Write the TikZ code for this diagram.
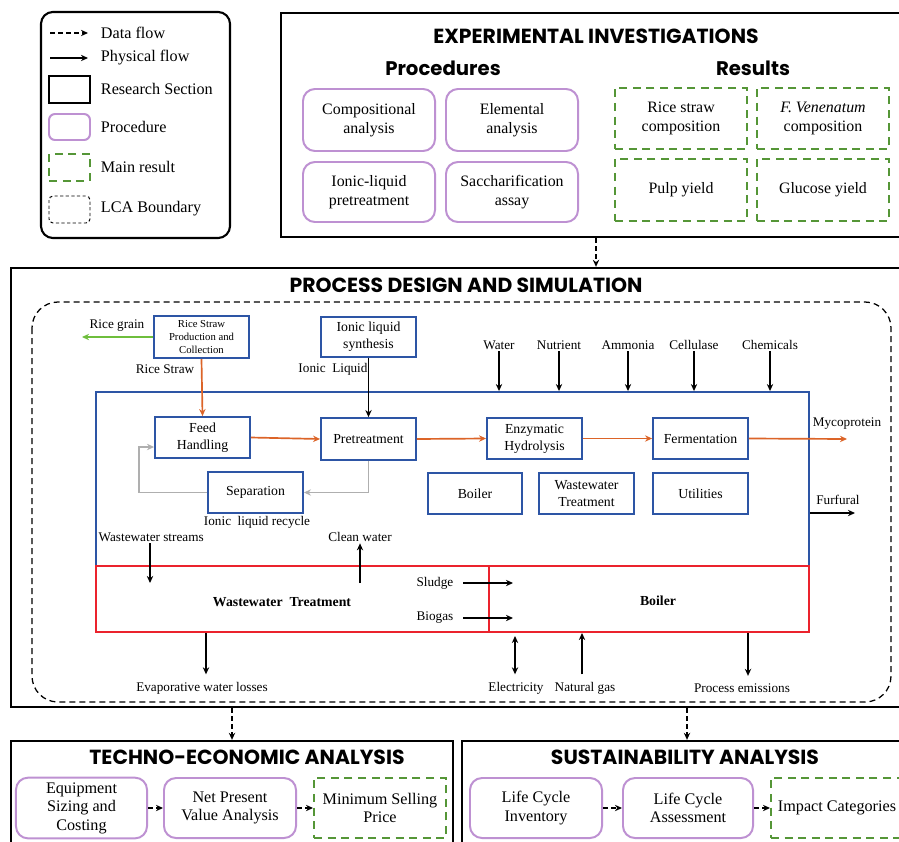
\documentclass[tikz,border=0pt]{standalone}
\usepackage{fontspec}
\setmainfont{Liberation Serif}
\newfontfamily\titlefont{Poppins}
\usetikzlibrary{positioning, calc, arrows.meta}

\definecolor{procpurple}{RGB}{190,145,210}
\definecolor{resgreen}{RGB}{85,150,55}
\definecolor{unitblue}{RGB}{45,85,165}
\definecolor{wwtred}{RGB}{235,35,45}
\definecolor{strawor}{RGB}{220,100,40}
\definecolor{graingreen}{RGB}{110,190,60}
\definecolor{recgray}{RGB}{175,175,175}

\tikzset{
  section/.style={draw, line width=1.6pt},
  ttl/.style={font=\titlefont\bfseries\fontsize{14.5}{16}\selectfont},
  subttl/.style={font=\titlefont\bfseries\fontsize{14}{16}\selectfont},
  proc/.style={draw=procpurple, line width=1.4pt, rounded corners=0.3cm, align=center},
  result/.style={draw=resgreen, line width=1.4pt, dash pattern=on 0.2cm off 0.14cm, align=center},
  unit/.style={draw=unitblue, line width=1.3pt, align=center, font=\rmfamily\fontsize{9.8}{12}\selectfont},
  redbox/.style={draw=wwtred, line width=1.3pt},
  lbl/.style={font=\rmfamily\fontsize{9.4}{11}\selectfont, inner sep=1pt},
  boldlbl/.style={font=\rmfamily\bfseries\fontsize{9.8}{11}\selectfont, inner sep=1pt},
  legtext/.style={font=\rmfamily\fontsize{11.5}{14}\selectfont, anchor=west},
  flow/.style={-{Stealth[length=5pt,width=4.5pt]}, line width=1.2pt},
  orflow/.style={flow, strawor},
  dataflow/.style={-{Stealth[length=5pt,width=4.5pt]}, line width=1.3pt, dash pattern=on 0.12cm off 0.08cm},
  lcaline/.style={draw, line width=0.9pt, dash pattern=on 0.15cm off 0.1cm},
  bigtext/.style={font=\rmfamily\fontsize{11.3}{13.3}\selectfont},
  bottext/.style={font=\rmfamily\fontsize{11.5}{13.2}\selectfont},
}

\begin{document}
\begin{tikzpicture}[x=0.025cm, y=-0.025cm]
    \clip (0,0) rectangle (899,841);
    \fill[white] (0,0) rectangle (899,841);

    % legend
    \node[draw, line width=1.5pt, rounded corners=0.3cm, minimum width=4.725cm, minimum height=5.65cm] (legend) at (135.5,125) {};
    \draw[dataflow] (50,33) -- (88,33);
    \node[legtext] at (96,33) {Data flow};
    \draw[flow] (50,58) -- (88,58);
    \node[legtext] at (96,58) {Physical flow};
    \draw[section, line width=2pt] (49,76) rectangle (90,103);
    \node[legtext] at (96,89) {Research Section};
    \draw[procpurple, line width=1.4pt, rounded corners=0.15cm] (49,114) rectangle (90,140);
    \node[legtext] at (96,127) {Procedure};
    \draw[resgreen, line width=1.4pt, dash pattern=on 0.2cm off 0.14cm] (49,154) rectangle (90,181);
    \node[legtext] at (96,167) {Main result};
    \draw[lcaline, line width=0.7pt, dash pattern=on 0.08cm off 0.06cm, rounded corners=0.1cm] (49,196) rectangle (90,223);
    \node[legtext] at (96,209) {LCA Boundary};

    % experimental investigations
    \node[section, minimum width=15.75cm, minimum height=5.6cm] (exp) at (596,125) {};
    \node[ttl] (expT) at (596,36) {EXPERIMENTAL INVESTIGATIONS};
    \node[subttl] (procT) at (443,68) {Procedures};
    \node[subttl] (resT) at (753,68) {Results};

    \node[proc, bigtext, minimum width=3.3cm, minimum height=1.55cm] (comp) at (369,120) {Compositional\\analysis};
    \node[proc, bigtext, minimum width=3.3cm, minimum height=1.55cm] (elem) at (512,120) {Elemental\\analysis};
    \node[proc, bigtext, minimum width=3.3cm, minimum height=1.5cm] (ilpre) at (369,192) {Ionic-liquid\\pretreatment};
    \node[proc, bigtext, minimum width=3.3cm, minimum height=1.5cm] (sacc) at (512,192) {Saccharification\\assay};

    \node[result, bigtext, minimum width=3.3cm, minimum height=1.525cm] (rscomp) at (681,118.5) {Rice straw\\composition};
    \node[result, bigtext, minimum width=3.3cm, minimum height=1.525cm] (fvcomp) at (823,118.5) {\textit{F. Venenatum}\\composition};
    \node[result, bigtext, minimum width=3.3cm, minimum height=1.55cm] (pulp) at (681,190) {Pulp yield};
    \node[result, bigtext, minimum width=3.3cm, minimum height=1.55cm] (gluc) at (823,190) {Glucose yield};

    % process design and simulation
    \node[section, minimum width=22.75cm, minimum height=10.975cm] (pds) at (466,487.5) {};
    \node[ttl] (pdsT) at (466,285) {PROCESS DESIGN AND SIMULATION};
    \draw[dataflow] (exp.south) -- (exp.south |- pds.north);
    \draw[lcaline, rounded corners=0.65cm] (32,302) rectangle (891,702);

    \node[unit, minimum width=2.375cm, minimum height=1cm, font=\rmfamily\fontsize{7.6}{9.2}\selectfont] (rspc) at (201.5,337) {Rice Straw\\Production and\\Collection};
    \node[unit, minimum width=2.375cm, minimum height=1cm] (ils) at (368.5,337) {Ionic liquid\\synthesis};

    \node[draw=unitblue, line width=1.3pt, minimum width=17.825cm, minimum height=4.35cm] (plant) at (452.5,479) {};

    \node[unit, minimum width=2.375cm, minimum height=1.025cm] (feed) at (202.5,437.5) {Feed\\Handling};
    \node[unit, minimum width=2.375cm, minimum height=1.05cm] (pre) at (368.5,439) {Pretreatment};
    \node[unit, minimum width=2.375cm, minimum height=1.025cm] (enz) at (534.5,438.5) {Enzymatic\\Hydrolysis};
    \node[unit, minimum width=2.375cm, minimum height=1.025cm] (fer) at (700.5,438.5) {Fermentation};
    \node[unit, minimum width=2.375cm, minimum height=1.025cm] (sep) at (255.5,492.5) {Separation};
    \node[unit, minimum width=2.35cm, minimum height=1.025cm] (boil) at (475,493.5) {Boiler};
    \node[unit, minimum width=2.375cm, minimum height=1.025cm] (wwt) at (586.5,493.5) {Wastewater\\Treatment};
    \node[unit, minimum width=2.375cm, minimum height=1.025cm] (util) at (700.5,493.5) {Utilities};

    \node[redbox, minimum width=9.825cm, minimum height=1.65cm] (wwtbox) at (292.5,599) {};
    \node[redbox, minimum width=8cm, minimum height=1.65cm] (boilbox) at (649,599) {};
    \node[boldlbl] (wwtL) at (282,602) {Wastewater\enspace Treatment};
    \node[boldlbl] (boilL) at (658,601) {Boiler};

    % flows around the plant
    \coordinate (grain) at (82,337);
    \draw[flow, graingreen] (rspc.west) -- (grain);
    \node[lbl] (grainL) at (117,326) {Rice grain};
    \draw[orflow] (rspc.south) -- (feed.north);
    \node[lbl] (strawL) at (165,369) {Rice Straw};
    \draw[flow] (ils.south) -- (pre.north);
    \node[lbl] (ilL) at (333,369) {Ionic\enspace Liquid};
    \draw[orflow] (feed.east) -- (pre.west);
    \draw[orflow] (pre.east) -- (enz.west);
    \draw[orflow] (enz.east) -- (fer.west);
    \coordinate (myco) at (847,439);
    \draw[orflow] (fer.east) -- (myco);
    \node[lbl] (mycoL) at (847,424) {Mycoprotein};

    \coordinate (loop) at (139,447);
    \draw[flow, recgray] (pre.south) |- (sep.east);
    \draw[flow, recgray] (sep.west) -| (loop) -- (loop -| feed.west);
    \node[lbl] (recL) at (257,522) {Ionic\enspace liquid recycle};

    \foreach \nm/\xx in {Water/499, Nutrient/559, Ammonia/628, Cellulase/694, Chemicals/770}{
      \node[lbl] (in\nm) at (\xx,345) {\nm};
      \draw[flow] (in\nm.south) -- (in\nm.south |- plant.north);
    }

    \coordinate (furf) at (855,513);
    \draw[flow] (furf -| plant.east) -- (furf);
    \node[lbl] (furfL) at (838,500) {Furfural};

    \node[lbl, anchor=west] (wws) at (97,537) {Wastewater streams};
    \coordinate (wwin) at (150,583);
    \draw[flow] (wwin |- wws.south) -- (wwin);
    \node[lbl] (cw) at (360,537) {Clean water};
    \coordinate (cwout) at (360,583);
    \draw[flow] (cwout) -- (cwout |- cw.south);

    \node[lbl, anchor=east] (sludge) at (455,583) {Sludge};
    \coordinate (sl) at (513,583);
    \draw[flow] ([xshift=0.2cm]sludge.east) -- (sl);
    \node[lbl, anchor=east] (biogas) at (455,618) {Biogas};
    \coordinate (bg) at (513,618);
    \draw[flow] ([xshift=0.2cm]biogas.east) -- (bg);

    \node[lbl] (evap) at (202,688) {Evaporative water losses};
    \coordinate (evx) at (206,633);
    \draw[flow] (evx) -- ([yshift=0.15cm]evx |- evap.north);
    \node[lbl] (elec) at (516,688) {Electricity};
    \coordinate (elx) at (515,636);
    \draw[flow, {Stealth[length=5pt,width=4.5pt]}-{Stealth[length=5pt,width=4.5pt]}] (elx) -- ([yshift=0.15cm]elx |- elec.north);
    \node[lbl] (ngas) at (585,688) {Natural gas};
    \coordinate (ngx) at (582,633);
    \draw[flow] ([yshift=0.15cm]ngx |- ngas.north) -- (ngx);
    \node[lbl] (emis) at (742,688) {Process emissions};
    \coordinate (emx) at (748,633);
    \draw[flow] (emx) -- ([yshift=0.15cm]emx |- emis.north);

    % techno-economic analysis
    \node[section, minimum width=11.05cm, minimum height=3.225cm] (tea) at (232,805.5) {};
    \node[ttl] (teaT) at (247,757) {TECHNO-ECONOMIC ANALYSIS};
    \draw[dataflow] (pds.south -| tea.north) -- (tea.north);
    \node[proc, bottext, minimum width=3.275cm, minimum height=1.5cm] (equip) at (81.5,808) {Equipment\\Sizing and\\Costing};
    \node[proc, bottext, minimum width=3.3cm, minimum height=1.5cm] (npv) at (230,808) {Net Present\\Value Analysis};
    \node[result, bottext, minimum width=3.3cm, minimum height=1.5cm] (msp) at (380,808) {Minimum Selling\\Price};
    \draw[dataflow] (equip) -- (npv);
    \draw[dataflow] (npv) -- (msp);

    % sustainability analysis
    \node[section, minimum width=11.25cm, minimum height=3.225cm] (sa) at (687,805.5) {};
    \node[ttl] (saT) at (685,757) {SUSTAINABILITY ANALYSIS};
    \draw[dataflow] (pds.south -| sa.north) -- (sa.north);
    \node[proc, bottext, minimum width=3.3cm, minimum height=1.5cm] (lci) at (536,808) {Life Cycle\\Inventory};
    \node[proc, bottext, minimum width=3.25cm, minimum height=1.5cm] (lca) at (688,808) {Life Cycle\\Assessment};
    \node[result, bottext, minimum width=3.3cm, minimum height=1.5cm] (imp) at (837,808) {Impact Categories};
    \draw[dataflow] (lci) -- (lca);
    \draw[dataflow] (lca) -- (imp);

\end{tikzpicture}
\end{document}
